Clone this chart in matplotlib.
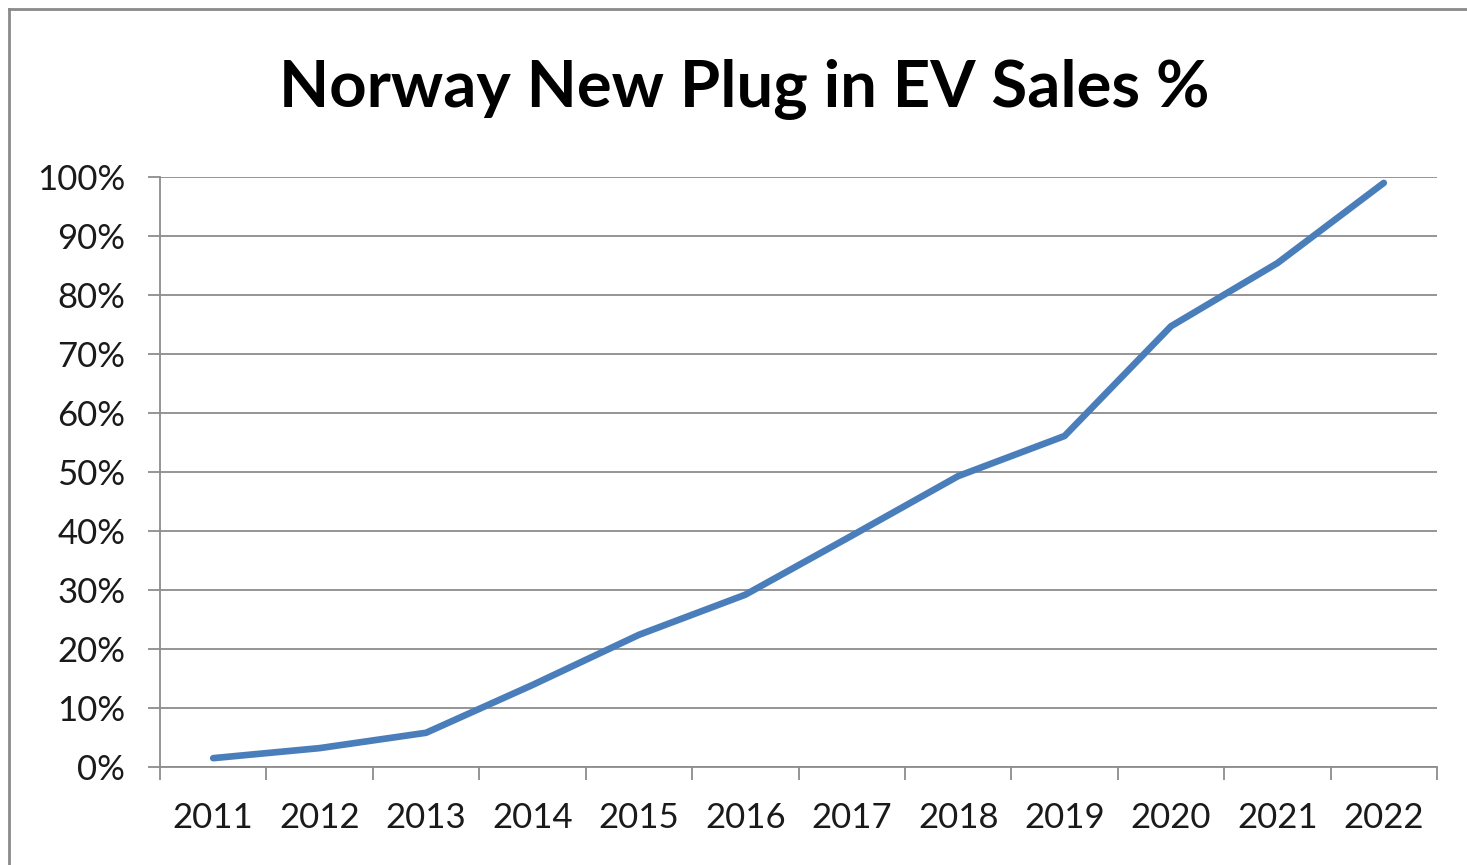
import numpy as np
import matplotlib.pyplot as plt
from matplotlib.lines import Line2D

years = ['2011', '2012', '2013', '2014', '2015', '2016',
         '2017', '2018', '2019', '2020', '2021', '2022']
ev_share = [1.5, 3.2, 5.8, 13.9, 22.4, 29.2, 39.2, 49.3, 56.1, 74.7, 85.4, 99.0]
y_ticks = [0, 10, 20, 30, 40, 50, 60, 70, 80, 90, 100]

plt.rcParams['font.family'] = ['Lato', 'DejaVu Sans']

fig = plt.figure(figsize=(14.67, 8.65), dpi=100)
ax = fig.add_axes([160 / 1467, 98 / 865, 1277 / 1467, 590 / 865])

x = np.arange(len(years))
ax.plot(x, ev_share, color='#4A7EBB', lw=4.8, solid_capstyle='round',
        solid_joinstyle='round', zorder=3)

ax.set_xlim(-0.5, len(years) - 0.5)
ax.set_ylim(0, 100)
ax.set_yticks(y_ticks)
ax.set_yticklabels([f'{v}%' for v in y_ticks])
ax.set_xticks(x)
ax.set_xticklabels(years)
ax.set_xticks(np.arange(-0.5, len(years)), minor=True)

ax.grid(axis='y', color='#8c8c8c', lw=1.3)
ax.set_axisbelow(True)
for s in ['top', 'right']:
    ax.spines[s].set_visible(False)
for s in ['left', 'bottom']:
    ax.spines[s].set_color('#8c8c8c')
    ax.spines[s].set_linewidth(1.3)

ax.tick_params(axis='x', which='major', length=0, pad=25, labelsize=25, labelcolor='#1a1a1a')
ax.tick_params(axis='x', which='minor', length=9, width=1.3, color='#8c8c8c', direction='out')
ax.tick_params(axis='y', length=9, width=1.3, color='#8c8c8c', pad=16, labelsize=25,
               labelcolor='#1a1a1a')

fig.text(0.507, 0.896, 'Norway New Plug in EV Sales %', ha='center', va='center',
         fontsize=47, fontweight='bold', color='black')

# chart border (left and top edges visible)
fig.add_artist(Line2D([9 / 1467, 9 / 1467], [0, 1 - 9 / 865], transform=fig.transFigure,
                      color='#8a8a8a', lw=2))
fig.add_artist(Line2D([9 / 1467, 1], [1 - 9 / 865, 1 - 9 / 865], transform=fig.transFigure,
                      color='#8a8a8a', lw=2))

fig.savefig('out.png', dpi=100)
